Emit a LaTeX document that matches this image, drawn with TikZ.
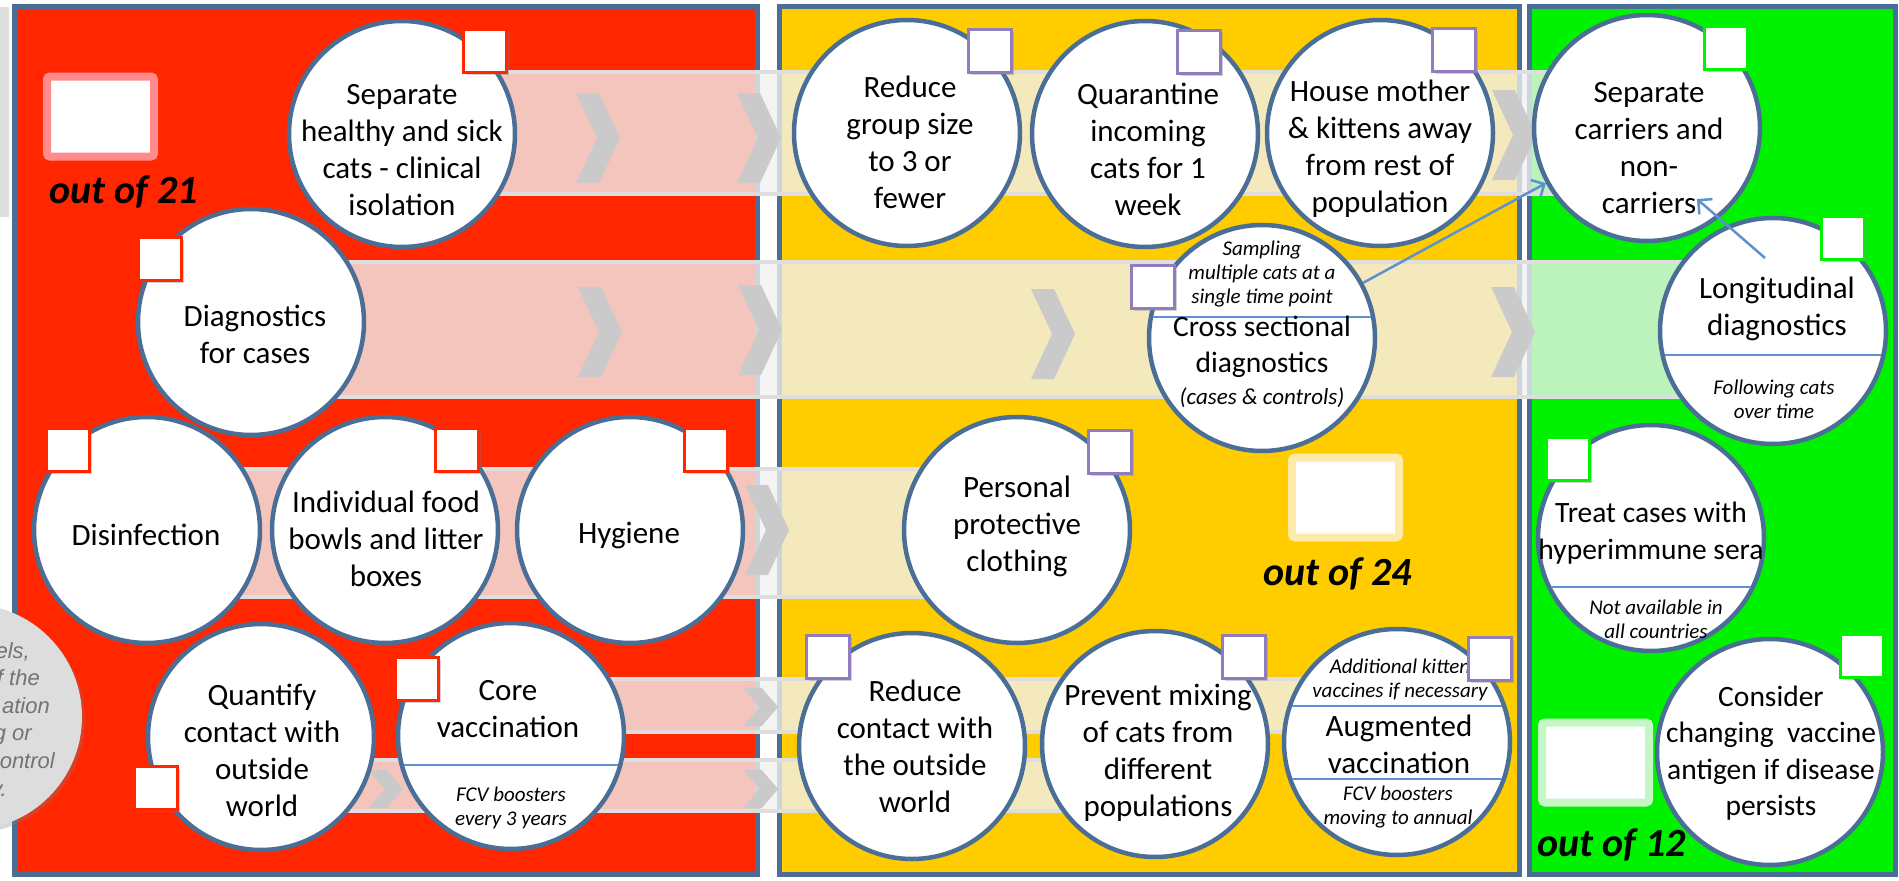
\documentclass[tikz,border=0pt]{standalone}
\usepackage{fontspec}
\setmainfont{Carlito}
\newfontfamily\notefont{Liberation Sans}
\usetikzlibrary{arrows.meta, shadows, calc}
\definecolor{frameblue}{RGB}{74,110,150}
\definecolor{panelred}{RGB}{255,38,0}
\definecolor{panelyellow}{RGB}{255,204,0}
\definecolor{panelgreen}{RGB}{0,242,0}
\definecolor{bandgray}{RGB}{222,222,222}
\definecolor{chevgray}{RGB}{202,202,202}
\definecolor{tickpurple}{RGB}{145,125,190}
\definecolor{linkblue}{RGB}{95,145,208}
\definecolor{slotred}{RGB}{255,140,140}
\definecolor{slotyellow}{RGB}{255,234,170}
\definecolor{slotgreen}{RGB}{196,247,196}
\definecolor{notegray}{RGB}{221,221,221}
\definecolor{notetext}{RGB}{115,115,115}

\begin{document}
\begin{tikzpicture}[x=1pt, y=-1pt,
	panel/.style={draw=frameblue, line width=4.5pt},
	band/.style={draw=bandgray, line width=4.5pt, fill=white!95!black, fill opacity=0.78},
	chev/.pic={\fill[chevgray] (0,-45) -- (23,-45) -- (44,0) -- (23,45) -- (0,45) -- (21,0) -- cycle;},
	pics/chord/.style={code={\draw[divider] ({-sqrt(111^2-(#1)*(#1))},#1) -- ({sqrt(111^2-(#1)*(#1))},#1);}},
	act/.style={circle, draw=frameblue, line width=4.5pt, fill=white, minimum size=226pt, inner sep=0pt},
	txt/.style={align=center, font=\fontsize{31}{37}\selectfont, inner sep=0pt},
	txts/.style={align=center, font=\fontsize{29.5}{36.5}\selectfont, inner sep=0pt},
	note/.style={align=center, font=\fontsize{21}{24}\selectfont\itshape, inner sep=0pt},
	divider/.style={draw=linkblue, line width=2pt},
	checkbox/.style={draw=#1, line width=2.5pt, fill=white, minimum size=43pt, inner sep=0pt,
		drop shadow={opacity=0.35, shadow xshift=2pt, shadow yshift=-2pt}},
	slot/.style={draw=#1, line width=8pt, fill=white, rounded corners=3pt, minimum width=107pt, minimum height=80pt, inner sep=0pt},
	score/.style={font=\fontsize{40}{40}\selectfont\bfseries\itshape, inner sep=0pt},
	notetxt/.style={font=\notefont\itshape\fontsize{22}{27}\selectfont, text=notetext, inner sep=0pt},
	link/.style={draw=linkblue, line width=2.5pt, -{Straight Barb[length=10pt, width=20pt]}}]
	\useasboundingbox (0,0) rectangle (1899,881);
	\fill[white] (0,0) rectangle (1899,881);
	\fill[notegray] (0,7) rectangle (9,217);
	% three stages
	\draw[panel, fill=panelred] (14.5,6.5) rectangle (757.5,874.5);
	\draw[panel, fill=panelyellow] (779.5,6.5) rectangle (1519.5,874.5);
	\draw[panel, fill=panelgreen] (1529.5,6.5) rectangle (1895.5,874.5);
	% pathways
	\draw[band] (450,72) rectangle (1600,194);
	\draw[band] (300,262) rectangle (1720,397);
	\draw[band] (200,469) rectangle (960,597);
	\draw[band] (560,679) rectangle (1340,732);
	\draw[band] (320,760) rectangle (1090,811);
	\foreach \cx/\cy in {576/138, 737/138, 1492/135, 578/332, 738/330, 1031/334, 1491/332, 745/530}
		\pic at (\cx,\cy) {chev};
	\foreach \cx/\cy in {743/707, 368/789, 743/789}
		\pic[xscale=0.8, yscale=0.43] at (\cx,\cy) {chev};
	% note on the left edge
	\node[circle, fill=notegray, minimum size=226pt, drop shadow={opacity=0.3, shadow xshift=3pt, shadow yshift=-3pt}] (note) at (-31,717) {};
	\foreach \frag/\fx [count=\i] in {{els,}/30, {f the}/40, {ation}/50, {g or}/32, {ontrol}/55, {y.}/7}
		\node[notetxt, anchor=base east] (note-\i) at (\fx,{658+27.6*(\i-1)}) {\frag};
	% red stage
	\node[act] (sep) at (402,134) {};
	\node[txt] (sep-txt) at (402,150) {Separate\\healthy and sick\\cats - clinical\\isolation};
	\node[act] (diag) at (251,322) {};
	\node[txt] (diag-txt) at (255,334) {Diagnostics\\for cases};
	\node[act] (disinf) at (147,530) {};
	\node[txt] (disinf-txt) at (146,535) {Disinfection};
	\node[act] (bowls) at (385,530) {};
	\node[txt] (bowls-txt) at (386,539) {Individual food\\bowls and litter\\boxes};
	\node[act] (hyg) at (630,530) {};
	\node[txt] (hyg-txt) at (629,535) {Hygiene};
	\node[act] (quant) at (261,737) {};
	\node[txt] (quant-txt) at (262,750) {Quantify\\contact with\\outside\\world};
	\node[act] (core) at (511,736) {};
	\pic at (core) {chord=29};
	\node[txt] (core-txt) at (508,709) {Core\\vaccination};
	\node[note] (core-note) at (511,808) {FCV boosters\\every 3 years};
	% yellow stage
	\node[act] (redgrp) at (907,133) {};
	\node[txt] (redgrp-txt) at (910,142) {Reduce\\group size\\to 3 or\\fewer};
	\node[act] (quar) at (1145,134) {};
	\node[txt] (quar-txt) at (1148,149) {Quarantine\\incoming\\cats for 1\\week};
	\node[act] (house) at (1380,133) {};
	\node[txt] (house-txt) at (1380,149) {House mother\\\& kittens away\\from rest of\\population};
	\node[act] (cross) at (1262,338) {};
	\pic at (cross) {chord=-21};
	\node[note] (cross-note) at (1262,274) {Sampling\\multiple cats at a\\single time point};
	\node[txts] (cross-txt) at (1262,347) {Cross sectional\\diagnostics};
	\node[note, font=\fontsize{23}{26}\selectfont\itshape] (cross-sub) at (1262,398) {(cases \& controls)};
	\node[act] (ppc) at (1017,530) {};
	\node[txt] (ppc-txt) at (1017,526) {Personal\\protective\\clothing};
	\node[act] (redcon) at (912,746) {};
	\node[txt] (redcon-txt) at (915,746) {Reduce\\contact with\\the outside\\world};
	\node[act] (prevent) at (1155,744) {};
	\node[txt] (prevent-txt) at (1158,753) {Prevent mixing\\of cats from\\different\\populations};
	\node[act] (aug) at (1397,742) {};
	\pic at (aug) {chord=-36};
	\pic at (aug) {chord=37};
	\node[note] (aug-top) at (1400,680) {Additional kitten\\vaccines if necessary};
	\node[txt] (aug-txt) at (1399,744) {Augmented\\vaccination};
	\node[note] (aug-note) at (1398,807) {FCV boosters\\moving to annual};
	% green stage
	\node[act] (carriers) at (1647,128) {};
	\node[txt] (carriers-txt) at (1649,148) {Separate\\carriers and\\non-\\carriers};
	\node[act] (longi) at (1773,331) {};
	\pic at (longi) {chord=24};
	\node[txt] (longi-txt) at (1777,309) {Longitudinal\\diagnostics};
	\node[note] (longi-note) at (1774,399) {Following cats\\over time};
	\node[act] (treat) at (1651,538) {};
	\pic at (treat) {chord=49};
	\node[txts] (treat-txt) at (1651,533) {Treat cases with\\hyperimmune sera};
	\node[note] (treat-note) at (1656,619) {Not available in\\all countries};
	\node[act] (consider) at (1770,752) {};
	\node[txts] (consider-txt) at (1771,753) {Consider\\changing\ \ vaccine\\antigen if disease\\persists};
	% check boxes
	\foreach \nm/\cx/\cy in {sep/485/51, diag/160/259, disinf/68/450, bowls/457/450, hyg/706/450, quant/156/788, core/417/679}
		\node[checkbox=panelred] (\nm-box) at (\cx,\cy) {};
	\foreach \nm/\cx/\cy in {redgrp/990/51, quar/1199/52, house/1454/50, cross/1153/287, ppc/1110/452, redcon/828/657, prevent/1244/657, aug/1490/659}
		\node[checkbox=tickpurple] (\nm-box) at (\cx,\cy) {};
	\foreach \nm/\cx/\cy in {carriers/1726/48, longi/1843/238, treat/1568/459, consider/1862/656}
		\node[checkbox=panelgreen] (\nm-box) at (\cx,\cy) {};
	% scores
	\node[slot=slotred] (slot-red) at (100.5,116.5) {};
	\node[score] (score-red) at (124,192) {out of 21};
	\node[slot=slotyellow] (slot-yellow) at (1345.5,497.5) {};
	\node[score] (score-yellow) at (1338,574) {out of 24};
	\node[slot=slotgreen] (slot-green) at (1595.5,762.5) {};
	\node[score] (score-green) at (1612,845) {out of 12};
	% links to the carrier split
	\draw[link] (cross) -- (carriers);
	\coordinate (longi-foot) at (1765,258);
	\draw[link] (longi-foot) -- ([shift={(50,71)}]carriers.center);
\end{tikzpicture}
\end{document}
